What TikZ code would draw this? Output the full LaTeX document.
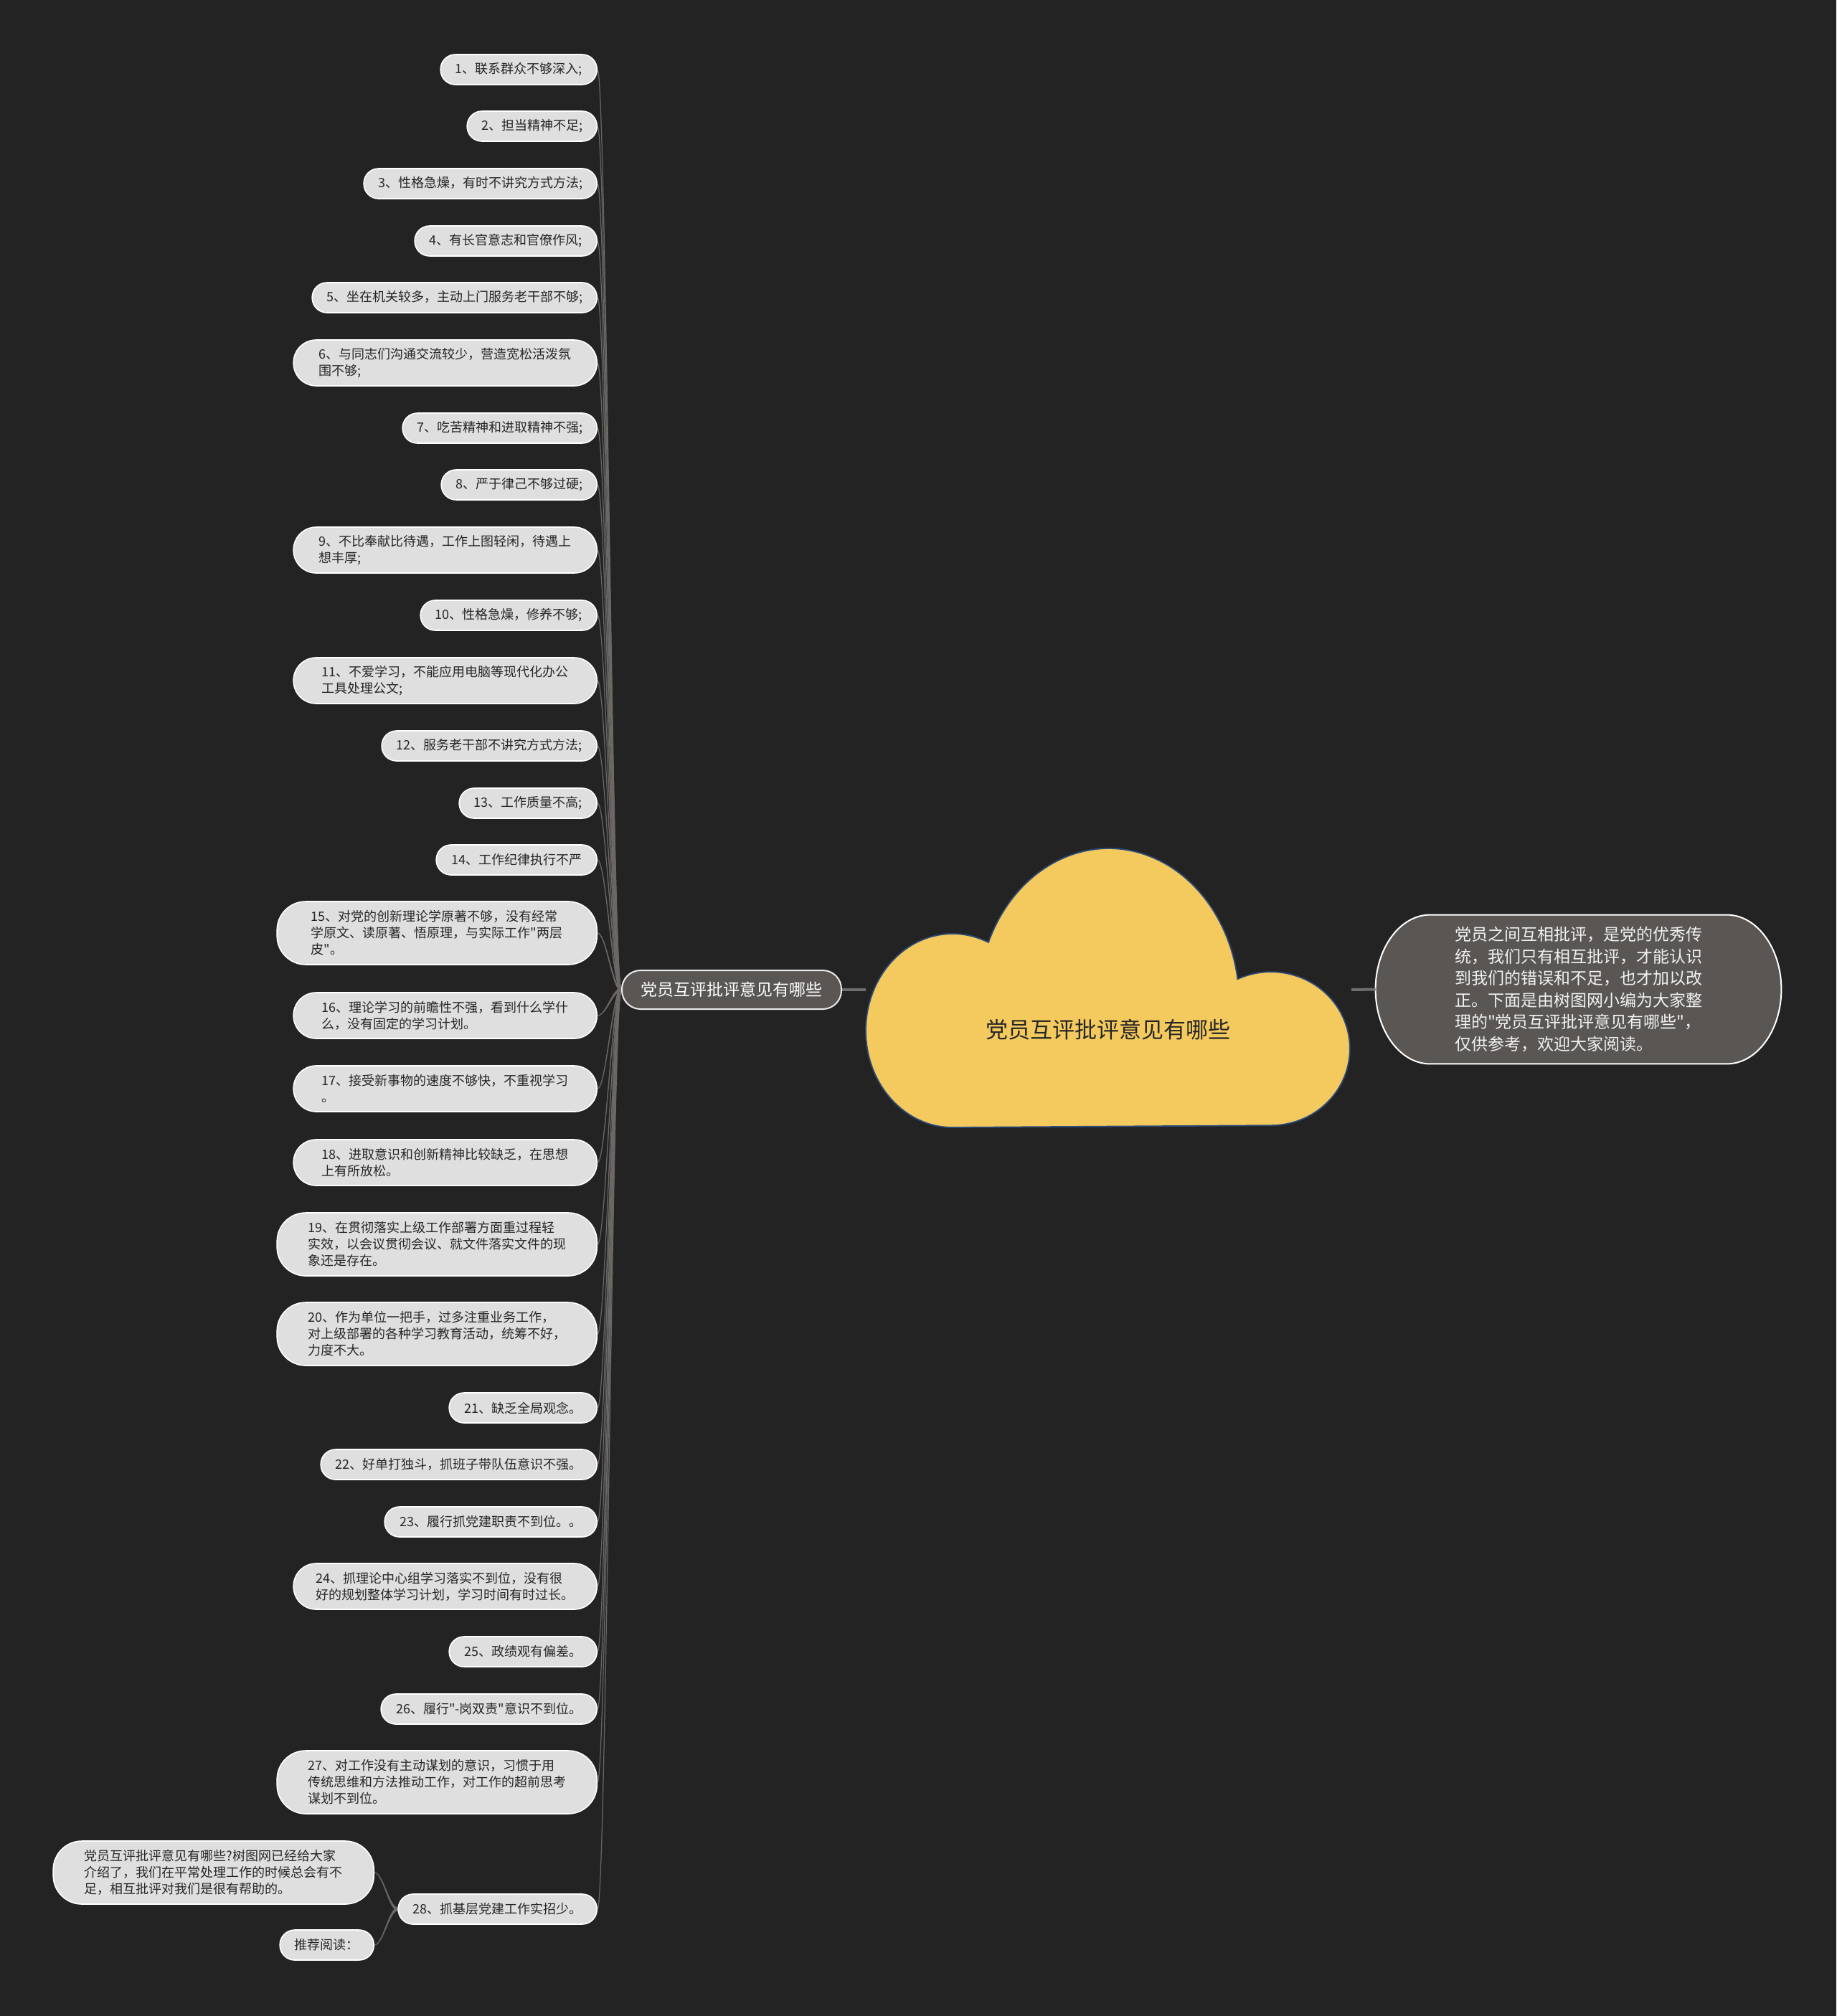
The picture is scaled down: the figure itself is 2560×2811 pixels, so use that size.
\documentclass[tikz,border=0pt]{standalone}
\usepackage{fontspec}
\newfontfamily\cjkf{Noto Sans CJK SC}
\usetikzlibrary{calc}
\pgfdeclarelayer{bg}
\pgfsetlayers{bg,main}
\definecolor{bgc}{HTML}{232323}
\definecolor{leaffill}{HTML}{DFDFDF}
\definecolor{leaftext}{HTML}{262626}
\definecolor{darkfill}{HTML}{5A5654}
\definecolor{connc}{HTML}{6A6765}
\definecolor{cloudfill}{HTML}{F4CA5F}
\definecolor{cloudline}{HTML}{2E4C7A}
\definecolor{linec}{HTML}{6E6E6E}
\tikzset{
 leaf/.style={draw=white, line width=0.8pt, fill=leaffill, text=leaftext, font=\cjkf\fontsize{9}{11.5}\selectfont, align=left, inner xsep=1pt, inner ysep=0pt, anchor=east},
 one/.style={minimum height=21pt, rounded corners=10.3pt},
 two/.style={minimum height=32pt, rounded corners=15.8pt},
 three/.style={minimum height=44pt, rounded corners=20pt},
 conn/.style={fill=connc, draw=connc, line width=0.6pt, line join=round},
 mainline/.style={draw=linec, line width=2pt},
 branch/.style={draw=white!92!black, line width=1pt, fill=darkfill, text=white, font=\cjkf\fontsize{11.5}{14}\selectfont, minimum width=153pt, minimum height=27pt, rounded corners=13pt, inner sep=0pt},
 desctext/.style={font=\cjkf\fontsize{11.5}{15.25}\selectfont, text=white!95!black, align=left, minimum width=282.5pt, minimum height=103.5pt, inner sep=0pt},
 cloudshape/.style={fill=cloudfill, draw=cloudline, line width=0.9pt},
 descshape/.style={fill=darkfill, draw=white, line width=1pt},
 roottext/.style={font=\cjkf\fontsize{15.5}{18}\selectfont, text=black!85},
}
\newcommand\leafconn[2]{\filldraw[conn] (#2.east) .. controls +(12,0) and +(-12,0) .. ($(#1.west)+(0,-2)$) -- ($(#1.west)+(0,2)$) .. controls +(-12,0) and +(12,0) .. (#2.east) -- cycle;}
\begin{document}
\begin{tikzpicture}[x=0.5pt,y=-0.5pt]
\begin{pgfonlayer}{bg}
\fill[bgc] (0,0) rectangle (2560,2811);
\end{pgfonlayer}
\useasboundingbox (0,0) rectangle (2560,2811);

% central cloud
\filldraw[cloudshape] (1328,1572) arc[start angle=90, end angle=294.4, x radius=121, y radius=135]
  arc[start angle=203, end angle=351.2, x radius=182, y radius=215]
  arc[start angle=245, end angle=450, x radius=110, y radius=107] -- cycle;
\node[roottext] (root) at (1545,1436) {党员互评批评意见有哪些};
\coordinate (cL) at (1207,1380);
\coordinate (cR) at (1884,1380);

% branch
\node[branch] (br) at (1020,1380) {党员互评批评意见有哪些};

% description
\node[desctext] (desc) at (2200.5,1379.5) {党员之间互相批评，是党的优秀传\\统，我们只有相互批评，才能认识\\到我们的错误和不足，也才加以改\\正。下面是由树图网小编为大家整\\理的"党员互评批评意见有哪些"，\\仅供参考，欢迎大家阅读。};

% leaves
\node[leaf,one,minimum width=109pt] (l1) at (833,97) {1、联系群众不够深入;};
\node[leaf,one,minimum width=90.5pt] (l2) at (833,176) {2、担当精神不足;};
\node[leaf,one,minimum width=162.5pt] (l3) at (833,256) {3、性格急燥，有时不讲究方式方法;};
\node[leaf,one,minimum width=127pt] (l4) at (833,336) {4、有长官意志和官僚作风;};
\node[leaf,one,minimum width=198.5pt] (l5) at (833,415) {5、坐在机关较多，主动上门服务老干部不够;};
\node[leaf,two,minimum width=211.5pt] (l6) at (833,506) {6、与同志们沟通交流较少，营造宽松活泼氛\\围不够;};
\node[leaf,one,minimum width=135.5pt] (l7) at (833,597) {7、吃苦精神和进取精神不强;};
\node[leaf,one,minimum width=108.5pt] (l8) at (833,676) {8、严于律己不够过硬;};
\node[leaf,two,minimum width=211.5pt] (l9) at (833,767) {9、不比奉献比待遇，工作上图轻闲，待遇上\\想丰厚;};
\node[leaf,one,minimum width=123pt] (l10) at (833,858) {10、性格急燥，修养不够;};
\node[leaf,two,minimum width=211.5pt] (l11) at (833,949) {11、不爱学习，不能应用电脑等现代化办公\\工具处理公文;};
\node[leaf,one,minimum width=150pt] (l12) at (833,1040) {12、服务老干部不讲究方式方法;};
\node[leaf,one,minimum width=96pt] (l13) at (833,1120) {13、工作质量不高;};
\node[leaf,one,minimum width=112pt] (l14) at (833,1199) {14、工作纪律执行不严};
\node[leaf,three,minimum width=223pt] (l15) at (833,1301) {15、对党的创新理论学原著不够，没有经常\\学原文、读原著、悟原理，与实际工作"两层\\皮"。};
\node[leaf,two,minimum width=211.5pt] (l16) at (833,1416) {16、理论学习的前瞻性不强，看到什么学什\\么，没有固定的学习计划。};
\node[leaf,two,minimum width=211.5pt] (l17) at (833,1518) {17、接受新事物的速度不够快，不重视学习\\。};
\node[leaf,two,minimum width=211.5pt] (l18) at (833,1621) {18、进取意识和创新精神比较缺乏，在思想\\上有所放松。};
\node[leaf,three,minimum width=223pt] (l19) at (833,1735) {19、在贯彻落实上级工作部署方面重过程轻\\实效，以会议贯彻会议、就文件落实文件的现\\象还是存在。};
\node[leaf,three,minimum width=223pt] (l20) at (833,1860) {20、作为单位一把手，过多注重业务工作，\\对上级部署的各种学习教育活动，统筹不好，\\力度不大。};
\node[leaf,one,minimum width=103pt] (l21) at (833,1963) {21、缺乏全局观念。};
\node[leaf,one,minimum width=192.5pt] (l22) at (833,2042) {22、好单打独斗，抓班子带队伍意识不强。};
\node[leaf,one,minimum width=148pt] (l23) at (833,2122) {23、履行抓党建职责不到位。。};
\node[leaf,two,minimum width=211.5pt] (l24) at (833,2212) {24、抓理论中心组学习落实不到位，没有很\\好的规划整体学习计划，学习时间有时过长。};
\node[leaf,one,minimum width=103pt] (l25) at (833,2303) {25、政绩观有偏差。};
\node[leaf,one,minimum width=150.5pt] (l26) at (833,2383) {26、履行"-岗双责"意识不到位。};
\node[leaf,three,minimum width=223pt] (l27) at (833,2485) {27、对工作没有主动谋划的意识，习惯于用\\传统思维和方法推动工作，对工作的超前思考\\谋划不到位。};
\node[leaf,one,minimum width=138.5pt] (l28) at (833,2662) {28、抓基层党建工作实招少。};
\node[leaf,three,minimum width=223.5pt] (s1) at (522,2611) {党员互评批评意见有哪些?树图网已经给大家\\介绍了，我们在平常处理工作的时候总会有不\\足，相互批评对我们是很有帮助的。};
\node[leaf,one,minimum width=65.5pt] (s2) at (522,2712) {推荐阅读：};

\begin{pgfonlayer}{bg}
\filldraw[descshape] ($(desc.north west)+(76,0)$) -- ($(desc.north east)+(-76,0)$)
  .. controls +(42,0) and +(0,-57) .. (desc.east)
  .. controls +(0,57) and +(42,0) .. ($(desc.south east)+(-76,0)$)
  -- ($(desc.south west)+(76,0)$)
  .. controls +(-42,0) and +(0,57) .. (desc.west)
  .. controls +(0,-57) and +(-42,0) .. ($(desc.north west)+(76,0)$) -- cycle;
\draw[mainline] (br.east) -- (cL);
\draw[mainline] (cR) -- (desc.west);
\foreach \i in {1,...,28} {\leafconn{br}{l\i}}
\leafconn{l28}{s1}
\leafconn{l28}{s2}
\end{pgfonlayer}
\end{tikzpicture}
\end{document}
